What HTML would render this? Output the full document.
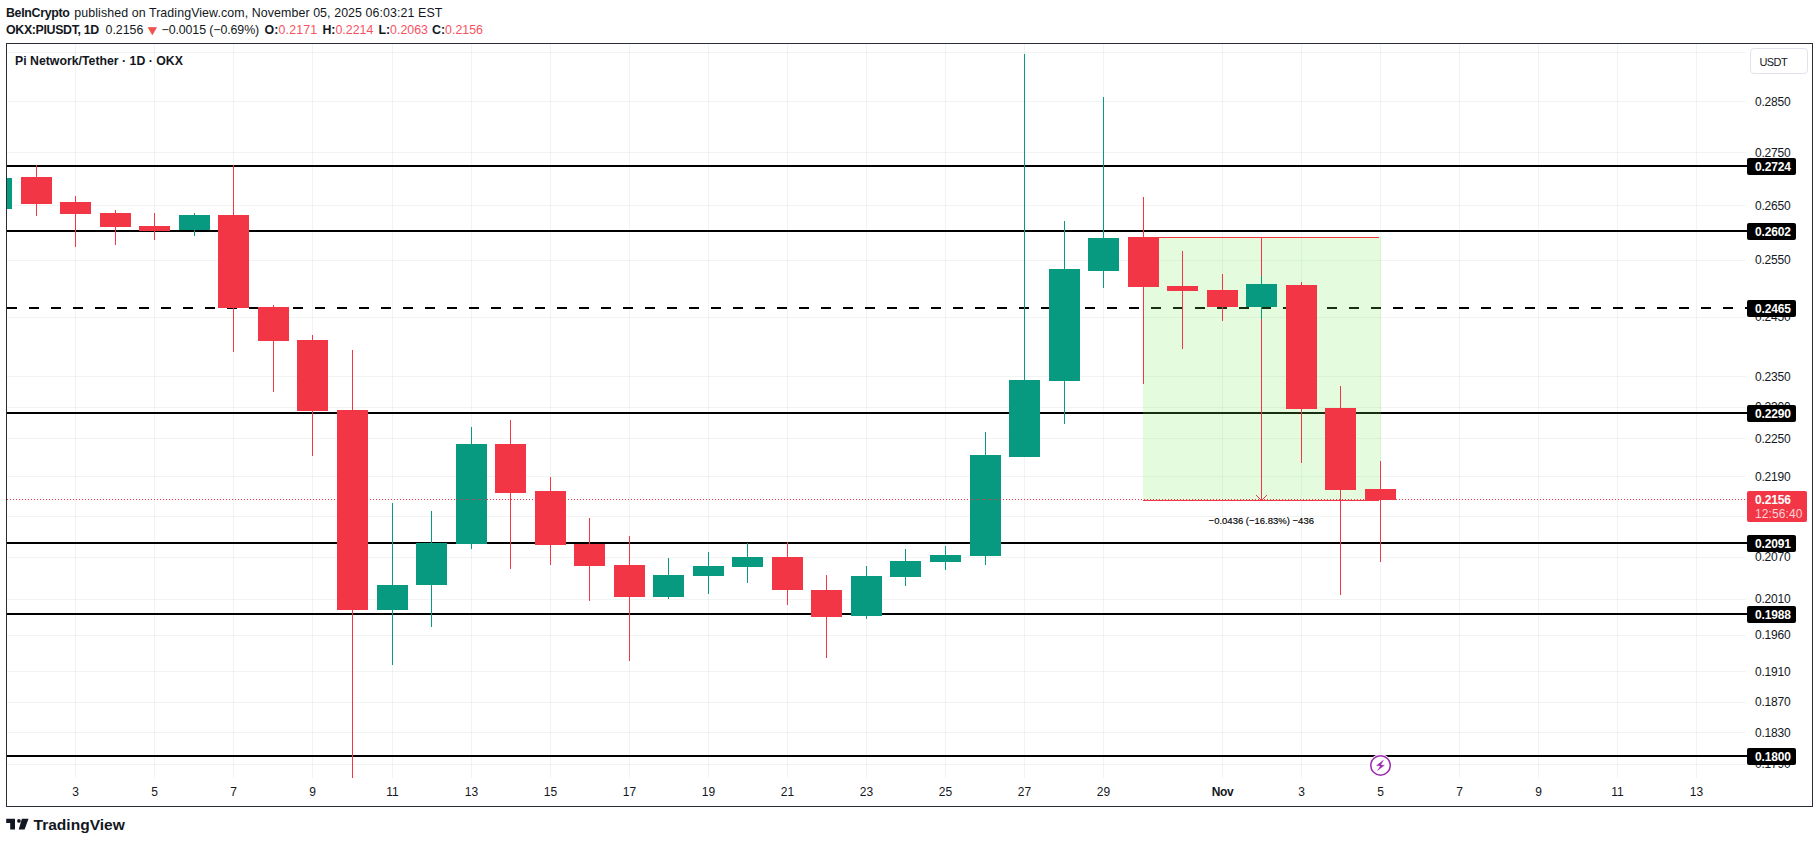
<!DOCTYPE html>
<html><head><meta charset="utf-8"><title>PIUSDT chart</title>
<style>
html,body{margin:0;padding:0;background:#fff;}
body{width:1819px;height:843px;position:relative;overflow:hidden;font-family:"Liberation Sans",sans-serif;color:#131722;}
.hdr{position:absolute;left:0;white-space:nowrap;font-size:12.4px;line-height:16px;color:#131722;}
.hdr b{font-weight:700;}
.sg{position:absolute;top:0;white-space:nowrap;}
.red{color:#f7525f;}
.frame{position:absolute;left:6px;top:43px;width:1805px;height:762px;border:1px solid #2a2e39;}
svg{position:absolute;left:0;top:0;}
.title{position:absolute;left:15px;top:53px;font-size:12.3px;font-weight:700;line-height:16px;white-space:nowrap;}
.pt{position:absolute;left:1755px;width:40px;font-size:12px;line-height:16px;height:16px;letter-spacing:-0.2px;white-space:nowrap;}
.bl{position:absolute;left:1747px;width:49px;height:17px;background:#000;color:#fff;border-radius:2px;font-size:12px;font-weight:700;line-height:19px;text-indent:8px;letter-spacing:-0.15px;white-space:nowrap;}
.cur{position:absolute;left:1747px;top:491px;width:60px;height:31px;background:#f23645;border-radius:2px;color:#fff;font-size:12px;white-space:nowrap;}
.cp{position:absolute;left:8px;top:2px;font-weight:700;line-height:15px;letter-spacing:-0.15px;}
.ct{position:absolute;left:8px;top:16px;line-height:15px;color:rgba(255,255,255,0.78);letter-spacing:0.1px;}
.usdt{position:absolute;left:1750px;top:48px;width:56px;height:24px;border:1px solid #e0e3eb;border-radius:4px;font-size:11px;line-height:26px;text-indent:8.5px;letter-spacing:-0.6px;background:#fff;}
.tl{position:absolute;top:784px;width:60px;text-align:center;font-size:12px;line-height:16px;white-space:nowrap;}
.tl.b{font-weight:700;letter-spacing:-0.4px;}
.mlab{position:absolute;left:1161.3px;top:514px;width:200px;text-align:center;font-size:9.5px;line-height:14px;color:#000;white-space:nowrap;-webkit-text-stroke:0.15px #000;}
.logo{position:absolute;left:33.5px;top:815.5px;font-size:15.55px;font-weight:700;line-height:18px;color:#131722;white-space:nowrap;}
</style></head>
<body>
<div class="hdr" style="top:5px"><span class="sg" style="left:6px;letter-spacing:-0.33px"><b>BeInCrypto</b></span><span class="sg" style="left:74.3px;letter-spacing:0.09px" id="h1b">published on TradingView.com, November 05, 2025 06:03:21 EST</span></div>
<div class="hdr" style="top:22px"><span class="sg" style="left:6px;letter-spacing:-0.35px" id="h2a"><b>OKX:PIUSDT, 1D</b></span><span class="sg" style="left:105.5px" id="h2b">0.2156</span><span class="sg red" style="left:146.5px;font-size:11px;transform:scale(1.45,1.25);transform-origin:50% 50%;color:#f0524f" id="h2c">&#9660;</span><span class="sg" style="left:161.5px;letter-spacing:-0.1px" id="h2d">&minus;0.0015 (&minus;0.69%)</span><span class="sg" style="left:264.5px;letter-spacing:0.15px" id="h2e"><b>O:</b><span class="red">0.2171</span></span><span class="sg" style="left:322.4px" id="h2f"><b>H:</b><span class="red">0.2214</span></span><span class="sg" style="left:378.4px" id="h2g"><b>L:</b><span class="red">0.2063</span></span><span class="sg" style="left:432px" id="h2h"><b>C:</b><span class="red">0.2156</span></span></div>
<svg width="1819" height="843" viewBox="0 0 1819 843" shape-rendering="crispEdges">
<rect x="75" y="44" width="1" height="734" fill="rgba(42,46,57,0.06)"/>
<rect x="154" y="44" width="1" height="734" fill="rgba(42,46,57,0.06)"/>
<rect x="233" y="44" width="1" height="734" fill="rgba(42,46,57,0.06)"/>
<rect x="312" y="44" width="1" height="734" fill="rgba(42,46,57,0.06)"/>
<rect x="392" y="44" width="1" height="734" fill="rgba(42,46,57,0.06)"/>
<rect x="471" y="44" width="1" height="734" fill="rgba(42,46,57,0.06)"/>
<rect x="550" y="44" width="1" height="734" fill="rgba(42,46,57,0.06)"/>
<rect x="629" y="44" width="1" height="734" fill="rgba(42,46,57,0.06)"/>
<rect x="708" y="44" width="1" height="734" fill="rgba(42,46,57,0.06)"/>
<rect x="787" y="44" width="1" height="734" fill="rgba(42,46,57,0.06)"/>
<rect x="866" y="44" width="1" height="734" fill="rgba(42,46,57,0.06)"/>
<rect x="945" y="44" width="1" height="734" fill="rgba(42,46,57,0.06)"/>
<rect x="1024" y="44" width="1" height="734" fill="rgba(42,46,57,0.06)"/>
<rect x="1103" y="44" width="1" height="734" fill="rgba(42,46,57,0.06)"/>
<rect x="1222" y="44" width="1" height="734" fill="rgba(42,46,57,0.06)"/>
<rect x="1301" y="44" width="1" height="734" fill="rgba(42,46,57,0.06)"/>
<rect x="1380" y="44" width="1" height="734" fill="rgba(42,46,57,0.06)"/>
<rect x="1459" y="44" width="1" height="734" fill="rgba(42,46,57,0.06)"/>
<rect x="1538" y="44" width="1" height="734" fill="rgba(42,46,57,0.06)"/>
<rect x="1617" y="44" width="1" height="734" fill="rgba(42,46,57,0.06)"/>
<rect x="1696" y="44" width="1" height="734" fill="rgba(42,46,57,0.06)"/>
<rect x="7" y="52" width="1739" height="1" fill="rgba(42,46,57,0.06)"/>
<rect x="7" y="101" width="1739" height="1" fill="rgba(42,46,57,0.06)"/>
<rect x="7" y="152" width="1739" height="1" fill="rgba(42,46,57,0.06)"/>
<rect x="7" y="205" width="1739" height="1" fill="rgba(42,46,57,0.06)"/>
<rect x="7" y="260" width="1739" height="1" fill="rgba(42,46,57,0.06)"/>
<rect x="7" y="317" width="1739" height="1" fill="rgba(42,46,57,0.06)"/>
<rect x="7" y="376" width="1739" height="1" fill="rgba(42,46,57,0.06)"/>
<rect x="7" y="407" width="1739" height="1" fill="rgba(42,46,57,0.06)"/>
<rect x="7" y="438" width="1739" height="1" fill="rgba(42,46,57,0.06)"/>
<rect x="7" y="476" width="1739" height="1" fill="rgba(42,46,57,0.06)"/>
<rect x="7" y="516" width="1739" height="1" fill="rgba(42,46,57,0.06)"/>
<rect x="7" y="557" width="1739" height="1" fill="rgba(42,46,57,0.06)"/>
<rect x="7" y="599" width="1739" height="1" fill="rgba(42,46,57,0.06)"/>
<rect x="7" y="635" width="1739" height="1" fill="rgba(42,46,57,0.06)"/>
<rect x="7" y="671" width="1739" height="1" fill="rgba(42,46,57,0.06)"/>
<rect x="7" y="702" width="1739" height="1" fill="rgba(42,46,57,0.06)"/>
<rect x="7" y="732" width="1739" height="1" fill="rgba(42,46,57,0.06)"/>
<rect x="7" y="764" width="1739" height="1" fill="rgba(42,46,57,0.06)"/>
<rect x="7" y="165" width="1740" height="2" fill="#000"/>
<rect x="7" y="230" width="1740" height="2" fill="#000"/>
<rect x="7" y="307" width="10" height="2" fill="#000"/>
<rect x="29" y="307" width="10" height="2" fill="#000"/>
<rect x="51" y="307" width="10" height="2" fill="#000"/>
<rect x="73" y="307" width="10" height="2" fill="#000"/>
<rect x="95" y="307" width="10" height="2" fill="#000"/>
<rect x="117" y="307" width="10" height="2" fill="#000"/>
<rect x="139" y="307" width="10" height="2" fill="#000"/>
<rect x="161" y="307" width="10" height="2" fill="#000"/>
<rect x="183" y="307" width="10" height="2" fill="#000"/>
<rect x="205" y="307" width="10" height="2" fill="#000"/>
<rect x="227" y="307" width="10" height="2" fill="#000"/>
<rect x="249" y="307" width="10" height="2" fill="#000"/>
<rect x="271" y="307" width="10" height="2" fill="#000"/>
<rect x="293" y="307" width="10" height="2" fill="#000"/>
<rect x="315" y="307" width="10" height="2" fill="#000"/>
<rect x="337" y="307" width="10" height="2" fill="#000"/>
<rect x="359" y="307" width="10" height="2" fill="#000"/>
<rect x="381" y="307" width="10" height="2" fill="#000"/>
<rect x="403" y="307" width="10" height="2" fill="#000"/>
<rect x="425" y="307" width="10" height="2" fill="#000"/>
<rect x="447" y="307" width="10" height="2" fill="#000"/>
<rect x="469" y="307" width="10" height="2" fill="#000"/>
<rect x="491" y="307" width="10" height="2" fill="#000"/>
<rect x="513" y="307" width="10" height="2" fill="#000"/>
<rect x="535" y="307" width="10" height="2" fill="#000"/>
<rect x="557" y="307" width="10" height="2" fill="#000"/>
<rect x="579" y="307" width="10" height="2" fill="#000"/>
<rect x="601" y="307" width="10" height="2" fill="#000"/>
<rect x="623" y="307" width="10" height="2" fill="#000"/>
<rect x="645" y="307" width="10" height="2" fill="#000"/>
<rect x="667" y="307" width="10" height="2" fill="#000"/>
<rect x="689" y="307" width="10" height="2" fill="#000"/>
<rect x="711" y="307" width="10" height="2" fill="#000"/>
<rect x="733" y="307" width="10" height="2" fill="#000"/>
<rect x="755" y="307" width="10" height="2" fill="#000"/>
<rect x="777" y="307" width="10" height="2" fill="#000"/>
<rect x="799" y="307" width="10" height="2" fill="#000"/>
<rect x="821" y="307" width="10" height="2" fill="#000"/>
<rect x="843" y="307" width="10" height="2" fill="#000"/>
<rect x="865" y="307" width="10" height="2" fill="#000"/>
<rect x="887" y="307" width="10" height="2" fill="#000"/>
<rect x="909" y="307" width="10" height="2" fill="#000"/>
<rect x="931" y="307" width="10" height="2" fill="#000"/>
<rect x="953" y="307" width="10" height="2" fill="#000"/>
<rect x="975" y="307" width="10" height="2" fill="#000"/>
<rect x="997" y="307" width="10" height="2" fill="#000"/>
<rect x="1019" y="307" width="10" height="2" fill="#000"/>
<rect x="1041" y="307" width="10" height="2" fill="#000"/>
<rect x="1063" y="307" width="10" height="2" fill="#000"/>
<rect x="1085" y="307" width="10" height="2" fill="#000"/>
<rect x="1107" y="307" width="10" height="2" fill="#000"/>
<rect x="1129" y="307" width="10" height="2" fill="#000"/>
<rect x="1151" y="307" width="10" height="2" fill="#000"/>
<rect x="1173" y="307" width="10" height="2" fill="#000"/>
<rect x="1195" y="307" width="10" height="2" fill="#000"/>
<rect x="1217" y="307" width="10" height="2" fill="#000"/>
<rect x="1239" y="307" width="10" height="2" fill="#000"/>
<rect x="1261" y="307" width="10" height="2" fill="#000"/>
<rect x="1283" y="307" width="10" height="2" fill="#000"/>
<rect x="1305" y="307" width="10" height="2" fill="#000"/>
<rect x="1327" y="307" width="10" height="2" fill="#000"/>
<rect x="1349" y="307" width="10" height="2" fill="#000"/>
<rect x="1371" y="307" width="10" height="2" fill="#000"/>
<rect x="1393" y="307" width="10" height="2" fill="#000"/>
<rect x="1415" y="307" width="10" height="2" fill="#000"/>
<rect x="1437" y="307" width="10" height="2" fill="#000"/>
<rect x="1459" y="307" width="10" height="2" fill="#000"/>
<rect x="1481" y="307" width="10" height="2" fill="#000"/>
<rect x="1503" y="307" width="10" height="2" fill="#000"/>
<rect x="1525" y="307" width="10" height="2" fill="#000"/>
<rect x="1547" y="307" width="10" height="2" fill="#000"/>
<rect x="1569" y="307" width="10" height="2" fill="#000"/>
<rect x="1591" y="307" width="10" height="2" fill="#000"/>
<rect x="1613" y="307" width="10" height="2" fill="#000"/>
<rect x="1635" y="307" width="10" height="2" fill="#000"/>
<rect x="1657" y="307" width="10" height="2" fill="#000"/>
<rect x="1679" y="307" width="10" height="2" fill="#000"/>
<rect x="1701" y="307" width="10" height="2" fill="#000"/>
<rect x="1723" y="307" width="10" height="2" fill="#000"/>
<rect x="1745" y="307" width="2" height="2" fill="#000"/>
<rect x="7" y="412" width="1740" height="2" fill="#000"/>
<rect x="7" y="542" width="1740" height="2" fill="#000"/>
<rect x="7" y="613" width="1740" height="2" fill="#000"/>
<rect x="7" y="755" width="1740" height="2" fill="#000"/>
<rect x="1143" y="237" width="238" height="263" fill="rgba(120,240,85,0.2)"/>
<rect x="1143" y="237" width="236" height="1" fill="#f23645"/>
<rect x="1143" y="500" width="236" height="1" fill="#f23645"/>
<rect x="1261" y="237" width="1" height="263" fill="#f23645"/>
<path d="M1256 495 L1261.5 500.5 L1267 495" fill="none" stroke="#f23645" stroke-width="1" shape-rendering="geometricPrecision"/>
<clipPath id="plot"><rect x="7" y="44" width="1739" height="734"/></clipPath><g clip-path="url(#plot)">
<rect x="-4" y="170" width="1" height="45" fill="#089981"/>
<rect x="-19" y="178" width="31" height="31" fill="#089981"/>
<rect x="36" y="165" width="1" height="51" fill="#f23645"/>
<rect x="21" y="177" width="31" height="27" fill="#f23645"/>
<rect x="75" y="196" width="1" height="51" fill="#f23645"/>
<rect x="60" y="202" width="31" height="12" fill="#f23645"/>
<rect x="115" y="210" width="1" height="35" fill="#f23645"/>
<rect x="100" y="213" width="31" height="14" fill="#f23645"/>
<rect x="154" y="213" width="1" height="27" fill="#f23645"/>
<rect x="139" y="226" width="31" height="5" fill="#f23645"/>
<rect x="194" y="213" width="1" height="23" fill="#089981"/>
<rect x="179" y="215" width="31" height="15" fill="#089981"/>
<rect x="233" y="165" width="1" height="187" fill="#f23645"/>
<rect x="218" y="215" width="31" height="93" fill="#f23645"/>
<rect x="273" y="305" width="1" height="87" fill="#f23645"/>
<rect x="258" y="307" width="31" height="34" fill="#f23645"/>
<rect x="312" y="335" width="1" height="121" fill="#f23645"/>
<rect x="297" y="340" width="31" height="71" fill="#f23645"/>
<rect x="352" y="350" width="1" height="428" fill="#f23645"/>
<rect x="337" y="410" width="31" height="200" fill="#f23645"/>
<rect x="392" y="503" width="1" height="162" fill="#089981"/>
<rect x="377" y="585" width="31" height="25" fill="#089981"/>
<rect x="431" y="511" width="1" height="116" fill="#089981"/>
<rect x="416" y="543" width="31" height="42" fill="#089981"/>
<rect x="471" y="427" width="1" height="122" fill="#089981"/>
<rect x="456" y="444" width="31" height="100" fill="#089981"/>
<rect x="510" y="420" width="1" height="149" fill="#f23645"/>
<rect x="495" y="444" width="31" height="49" fill="#f23645"/>
<rect x="550" y="477" width="1" height="88" fill="#f23645"/>
<rect x="535" y="491" width="31" height="54" fill="#f23645"/>
<rect x="589" y="518" width="1" height="83" fill="#f23645"/>
<rect x="574" y="544" width="31" height="22" fill="#f23645"/>
<rect x="629" y="536" width="1" height="125" fill="#f23645"/>
<rect x="614" y="565" width="31" height="32" fill="#f23645"/>
<rect x="668" y="558" width="1" height="41" fill="#089981"/>
<rect x="653" y="575" width="31" height="22" fill="#089981"/>
<rect x="708" y="552" width="1" height="42" fill="#089981"/>
<rect x="693" y="566" width="31" height="10" fill="#089981"/>
<rect x="747" y="543" width="1" height="40" fill="#089981"/>
<rect x="732" y="557" width="31" height="10" fill="#089981"/>
<rect x="787" y="542" width="1" height="63" fill="#f23645"/>
<rect x="772" y="557" width="31" height="33" fill="#f23645"/>
<rect x="826" y="575" width="1" height="83" fill="#f23645"/>
<rect x="811" y="590" width="31" height="27" fill="#f23645"/>
<rect x="866" y="566" width="1" height="53" fill="#089981"/>
<rect x="851" y="576" width="31" height="40" fill="#089981"/>
<rect x="905" y="549" width="1" height="37" fill="#089981"/>
<rect x="890" y="561" width="31" height="16" fill="#089981"/>
<rect x="945" y="546" width="1" height="24" fill="#089981"/>
<rect x="930" y="555" width="31" height="7" fill="#089981"/>
<rect x="985" y="432" width="1" height="133" fill="#089981"/>
<rect x="970" y="455" width="31" height="101" fill="#089981"/>
<rect x="1024" y="54" width="1" height="403" fill="#089981"/>
<rect x="1009" y="380" width="31" height="77" fill="#089981"/>
<rect x="1064" y="221" width="1" height="203" fill="#089981"/>
<rect x="1049" y="269" width="31" height="112" fill="#089981"/>
<rect x="1103" y="97" width="1" height="191" fill="#089981"/>
<rect x="1088" y="238" width="31" height="33" fill="#089981"/>
<rect x="1143" y="197" width="1" height="187" fill="#f23645"/>
<rect x="1128" y="237" width="31" height="50" fill="#f23645"/>
<rect x="1182" y="251" width="1" height="98" fill="#f23645"/>
<rect x="1167" y="286" width="31" height="5" fill="#f23645"/>
<rect x="1222" y="274" width="1" height="47" fill="#f23645"/>
<rect x="1207" y="290" width="31" height="17" fill="#f23645"/>
<rect x="1261" y="276" width="1" height="43" fill="#089981"/>
<rect x="1246" y="284" width="31" height="23" fill="#089981"/>
<rect x="1301" y="282" width="1" height="181" fill="#f23645"/>
<rect x="1286" y="285" width="31" height="124" fill="#f23645"/>
<rect x="1340" y="386" width="1" height="209" fill="#f23645"/>
<rect x="1325" y="408" width="31" height="82" fill="#f23645"/>
<rect x="1380" y="461" width="1" height="101" fill="#f23645"/>
<rect x="1365" y="489" width="31" height="11" fill="#f23645"/>
</g>
<line x1="7" y1="499.5" x2="1746" y2="499.5" stroke="#f23645" stroke-width="1" stroke-dasharray="1 2"/>
<g shape-rendering="geometricPrecision"><circle cx="1380.5" cy="765.45" r="11.3" fill="#fff"/><circle cx="1380.5" cy="765.45" r="9.75" fill="#fff" stroke="#9c27b0" stroke-width="1.5"/><path d="M1383.6 760.1 L1376.4 765.6 L1380.4 765.9 L1377.3 770.7 L1384.5 765.2 L1380.8 764.9 Z" fill="#9c27b0" stroke="#9c27b0" stroke-width="0.25" stroke-linejoin="round"/></g>
</svg>
<div class="frame"></div>
<div class="title">Pi Network/Tether &middot; 1D &middot; OKX</div>
<div class="pt" style="top:94.0px">0.2850</div>
<div class="pt" style="top:144.9px">0.2750</div>
<div class="pt" style="top:197.6px">0.2650</div>
<div class="pt" style="top:252.4px">0.2550</div>
<div class="pt" style="top:309.4px">0.2450</div>
<div class="pt" style="top:368.7px">0.2350</div>
<div class="pt" style="top:399.3px">0.2300</div>
<div class="pt" style="top:430.6px">0.2250</div>
<div class="pt" style="top:469.1px">0.2190</div>
<div class="pt" style="top:508.7px">0.2130</div>
<div class="pt" style="top:549.4px">0.2070</div>
<div class="pt" style="top:591.2px">0.2010</div>
<div class="pt" style="top:627.1px">0.1960</div>
<div class="pt" style="top:663.9px">0.1910</div>
<div class="pt" style="top:694.1px">0.1870</div>
<div class="pt" style="top:724.8px">0.1830</div>
<div class="pt" style="top:756.3px">0.1790</div>
<div class="bl" style="top:158px">0.2724</div>
<div class="bl" style="top:223px">0.2602</div>
<div class="bl" style="top:300px">0.2465</div>
<div class="bl" style="top:405px">0.2290</div>
<div class="bl" style="top:535px">0.2091</div>
<div class="bl" style="top:606px">0.1988</div>
<div class="bl" style="top:748px">0.1800</div>
<div class="cur"><div class="cp">0.2156</div><div class="ct">12:56:40</div></div>
<div class="usdt">USDT</div>
<div class="tl" style="left:45.5px">3</div>
<div class="tl" style="left:124.5px">5</div>
<div class="tl" style="left:203.5px">7</div>
<div class="tl" style="left:282.5px">9</div>
<div class="tl" style="left:362.5px">11</div>
<div class="tl" style="left:441.5px">13</div>
<div class="tl" style="left:520.5px">15</div>
<div class="tl" style="left:599.5px">17</div>
<div class="tl" style="left:678.5px">19</div>
<div class="tl" style="left:757.5px">21</div>
<div class="tl" style="left:836.5px">23</div>
<div class="tl" style="left:915.5px">25</div>
<div class="tl" style="left:994.5px">27</div>
<div class="tl" style="left:1073.5px">29</div>
<div class="tl b" style="left:1192.5px">Nov</div>
<div class="tl" style="left:1271.5px">3</div>
<div class="tl" style="left:1350.5px">5</div>
<div class="tl" style="left:1429.5px">7</div>
<div class="tl" style="left:1508.5px">9</div>
<div class="tl" style="left:1587.5px">11</div>
<div class="tl" style="left:1666.5px">13</div>
<div class="mlab">&minus;0.0436 (&minus;16.83%) &minus;436</div>
<svg width="30" height="14" viewBox="0 0 30 14" style="left:6px;top:817px" shape-rendering="geometricPrecision">
<path d="M0.2 1.8 H9 V12.6 H4.2 V6.1 H0.2 Z" fill="#131722"/>
<circle cx="12.95" cy="3.9" r="1.85" fill="#131722"/>
<path d="M15.9 1.8 H22.5 L18.6 12.6 H12.7 Z" fill="#131722"/>
</svg>
<div class="logo">TradingView</div>
</body></html>
